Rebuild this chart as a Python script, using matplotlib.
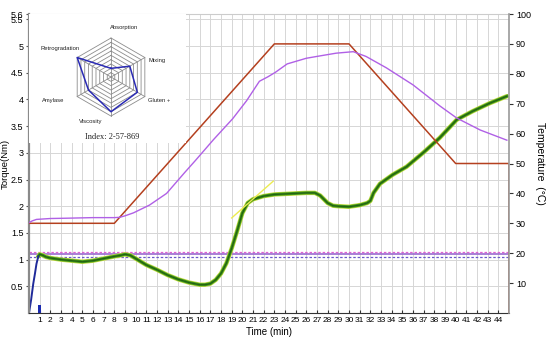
import numpy as np
import matplotlib
matplotlib.use("Agg")
import matplotlib.pyplot as plt

plt.rcParams['font.family'] = ['Liberation Sans', 'DejaVu Sans']

# torque curve (Nm)
torque_t = [0, 0.2, 0.4, 0.56, 0.7, 0.87, 1.0, 1.3, 1.6, 2.0, 3.0, 4.0, 5.0, 6.0, 7.0,
            8.0, 8.6, 9.0, 9.5, 10.0, 11.0, 12.0, 13.0, 14.0, 15.0, 16.0, 16.5, 17.0,
            17.5, 18.0, 18.5, 19.0, 19.5, 20.0, 20.5, 21.0, 22.0, 23.0, 24.0, 25.0,
            26.0, 26.8, 27.3, 28.0, 28.5, 29.0, 30.0, 31.0, 31.7, 32.0, 32.3, 32.9,
            34.1, 35.4, 37.0, 38.5, 40.1, 41.6, 43.2, 44.8]
torque_nm = [0, 0.25, 0.55, 0.74, 0.92, 1.06, 1.10, 1.08, 1.05, 1.03, 1.00, 0.98, 0.96,
             0.98, 1.02, 1.06, 1.08, 1.10, 1.08, 1.02, 0.90, 0.81, 0.71, 0.63, 0.57,
             0.53, 0.53, 0.55, 0.62, 0.74, 0.93, 1.21, 1.53, 1.87, 2.06, 2.13, 2.19,
             2.22, 2.23, 2.24, 2.25, 2.25, 2.20, 2.06, 2.01, 2.00, 1.99, 2.02, 2.06,
             2.10, 2.25, 2.42, 2.59, 2.74, 3.01, 3.28, 3.62, 3.78, 3.93, 4.06]
n_start = 6  # first points drawn in blue

# yellow slope line
slope_t = [19.0, 22.9]
slope_nm = [1.78, 2.47]

# target band for C1
target = 1.10
target_tol = 0.05

# set temperature profile (red)
set_t = [0, 8, 23, 30, 40, 45, 45]
set_c = [30, 30, 90, 90, 50, 50, 0]

# dough temperature (magenta)
dough_t = [0, 0.3, 0.7, 2, 3.5, 6, 8, 8.5, 9.0, 9.8, 11.3, 12.9, 14.6, 15.6, 17.3,
           19.1, 20.4, 21.6, 22.4, 23.1, 24.2, 26.0, 27.3, 28.8, 30.4, 31.6, 33.5,
           36.0, 38.5, 40.1, 42.3, 44.8]
dough_c = [30.2, 30.8, 31.3, 31.6, 31.7, 31.9, 31.9, 32.0, 32.5, 33.5, 36.1, 40.0,
           47.0, 51.0, 58.0, 65.0, 71.0, 77.5, 79.0, 80.5, 83.3, 85.2, 86.0, 86.9,
           87.4, 85.8, 82.0, 76.3, 69.3, 65.2, 61.2, 57.8]

# profiler (radar)
radar_labels = ['Absorption', 'Mixing', 'Gluten +', 'Viscosity', 'Amylase', 'Retrogradation']
radar_values = [2, 5, 7, 8, 6, 9]
radar_index = 'Index: 2-57-869'

torque_ticks = [0.5, 1, 1.5, 2, 2.5, 3, 3.5, 4, 4.5, 5, 5.5, 5.6]
torque_ticklabels = ['0.5', '1', '1.5', '2', '2.5', '3', '3.5', '4', '4.5', '5', '5.5', '5.6']
time_ticks = list(range(1, 45))
temp_ticks = list(range(10, 101, 10))

fig = plt.figure(figsize=(5.5, 3.43), dpi=100)
ax = fig.add_axes([29 / 550, 1 - 313 / 343, 480 / 550, 299 / 343])
ax.set_xlim(0, 45)
ax.set_ylim(0, 5.6)

ax.set_xticks(time_ticks)
ax.set_xticklabels([str(t) for t in time_ticks], fontsize=6)
ax.set_yticks(torque_ticks)
ax.set_yticklabels(torque_ticklabels, fontsize=6.5)
ax.grid(True, color='#d6d6d6', lw=0.7)
ax.set_axisbelow(True)
ax.tick_params(axis='x', direction='in', length=2.5, pad=3, color='#333333')
ax.tick_params(axis='y', direction='out', length=2.5, pad=1.5, color='#555555')
ax.spines['left'].set_color('#8a8a8a')
ax.spines['left'].set_linewidth(1.6)
ax.spines['bottom'].set_color('#333333')
ax.spines['top'].set_color('#cccccc')
ax.spines['right'].set_visible(False)

ax.set_xlabel('Time (min)', fontsize=7, labelpad=2)
ax.set_ylabel('Torque(Nm)', fontsize=6.8)
ax.yaxis.set_label_coords(-19 / 480, 0.5)

# target band lines
ax.axhline(target + target_tol, color='#e060d0', lw=0.9, ls=(0, (2, 1.5)))
ax.axhline(target, color='#9a6ad0', lw=1.2)
ax.axhline(target - target_tol, color='#6a5ac8', lw=0.9, ls=(0, (2, 1.5)))

# torque curve
ax.plot(torque_t[n_start - 1:], torque_nm[n_start - 1:], color='#c8dc40', lw=3.2,
        solid_capstyle='round')
ax.plot(torque_t[n_start - 1:], torque_nm[n_start - 1:], color='#3c961e', lw=2.2)
ax.plot(torque_t[n_start - 1:], torque_nm[n_start - 1:], color='#26620f', lw=0.9)
ax.plot(torque_t[:n_start], torque_nm[:n_start], color='#1f2a9a', lw=1.4)
ax.plot(slope_t, slope_nm, color='#ecec50', lw=1.0)
ax.bar([1], [0.15], width=0.22, color='#1a2ab0')

# temperature axis
ax2 = ax.twinx()
ax2.set_ylim(0, 100)
ax2.set_yticks(temp_ticks)
ax2.set_yticklabels([str(t) for t in temp_ticks], fontsize=6.5)
ax2.tick_params(axis='y', direction='out', length=3, pad=2, color='#333333')
for s in ['left', 'top', 'bottom']:
    ax2.spines[s].set_visible(False)
ax2.spines['right'].set_color('#9a9a9a')
ax2.spines['right'].set_linewidth(1.2)
ax2.set_ylabel('Temperature  (\u00b0C)', fontsize=7.5, rotation=270, labelpad=10)

ax2.plot(set_t, set_c, color='#b4401f', lw=1.1)
ax2.plot(dough_t, dough_c, color='#b060e6', lw=1.0)

# profiler inset
ax3 = fig.add_axes([29 / 550, 1 - 143 / 343, 157 / 550, 129 / 343])
ax3.set_xlim(-2.10, 1.92)
ax3.set_ylim(-1.69, 1.615)
ax3.set_facecolor('white')
ax3.set_xticks([])
ax3.set_yticks([])
for s in ax3.spines.values():
    s.set_visible(False)

ang = np.deg2rad([90, 30, -30, -90, -150, 150])
ring_ang = np.append(ang, ang[0])
for k in range(1, 10):
    r = k / 9
    ax3.plot(r * np.cos(ring_ang), r * np.sin(ring_ang), color='#8c8c8c', lw=0.6)
for a in ang:
    ax3.plot([0, np.cos(a)], [0, np.sin(a)], color='#8c8c8c', lw=0.6)
vals = np.array(radar_values + radar_values[:1]) / 9
ax3.plot(vals * np.cos(ring_ang), vals * np.sin(ring_ang), color='#2a2ab4', lw=1.1)

label_pos = [(-0.03, 1.26, 'left'), (0.95, 0.43, 'left'), (0.95, -0.59, 'left'),
             (-0.51, -1.15, 'center'), (-1.49, -0.59, 'center'), (-1.31, 0.72, 'center')]
for name, (u, v, ha) in zip(radar_labels, label_pos):
    ax3.text(u, v, name, fontsize=4.2, ha=ha, va='center', color='#222222')
ax3.text(0.02, -1.53, radar_index, fontsize=6, ha='center', va='center',
         family=['Liberation Serif', 'DejaVu Serif'], color='#222222')

fig.savefig('out.png', dpi=100)
